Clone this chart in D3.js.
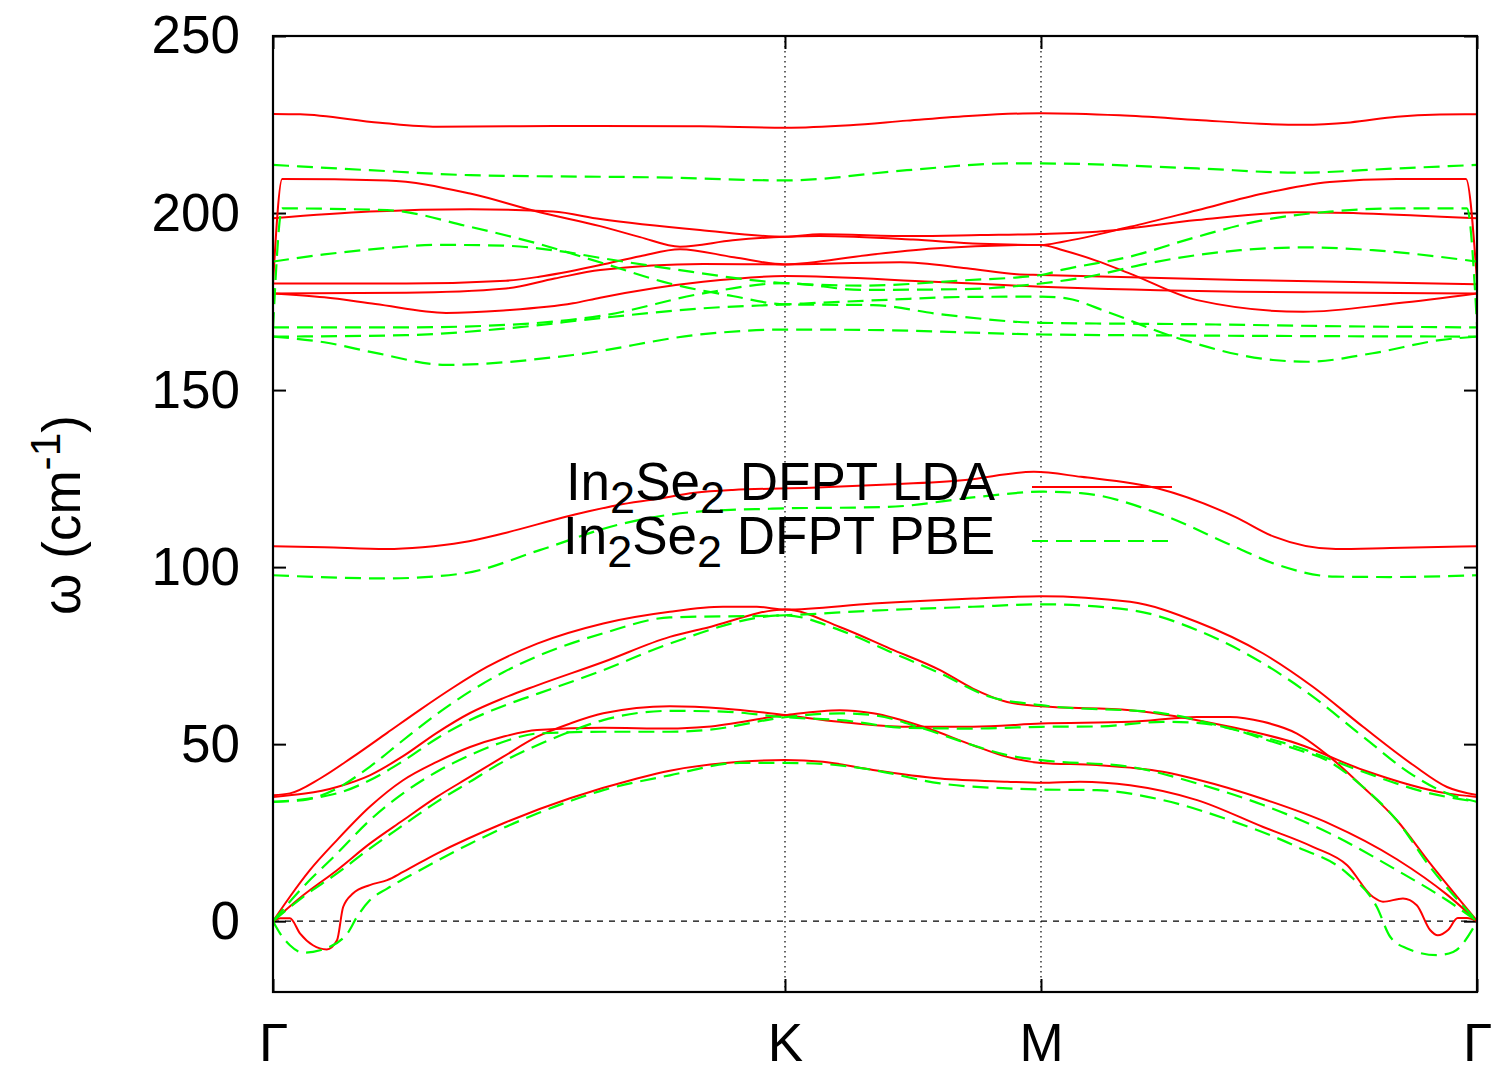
<!DOCTYPE html>
<html><head><meta charset="utf-8">
<script src="https://cdn.jsdelivr.net/npm/d3@7"></script>
<style>
body{margin:0;background:#fff}
text{font-family:"Liberation Sans",Arial,Helvetica,sans-serif}
</style>
</head><body>
<svg id="chart" width="1500" height="1071"></svg>
<script>
// ---- tick labels / categories ----
const kTicks = [0, 1, 1.5, 2.3516];
const kLabels = ["Γ", "K", "M", "Γ"];
const yTicks = [0, 50, 100, 150, 200, 250];
const seriesNames = ["LDA", "PBE"];

// ---- In2Se2 DFPT LDA bands: [path coordinate, frequency cm^-1] ----
const lda01 = [[0,228],[0.053,227.9],[0.209,225.5],[0.32,224.4],[0.482,224.5],[0.639,224.6],[0.834,224.5],[1,224.1],[1.127,224.8],[1.238,226.1],[1.367,227.5],[1.5,228.2],[1.654,227.6],[1.805,226.3],[1.928,225.2],[2.012,224.9],[2.104,225.6],[2.195,227.2],[2.279,227.8],[2.352,227.9]];
const lda02 = [[0,180],[0.018,209.6],[0.223,209.2],[0.385,205.5],[0.521,200.2],[0.639,196.3],[0.717,193.2],[0.795,190.5],[0.898,192.3],[1,193.3],[1.068,193.5],[1.25,192.5],[1.381,191.3],[1.5,191],[1.543,191.9],[1.674,196.1],[1.805,200.8],[1.934,205.5],[2.064,208.8],[2.195,209.6],[2.33,209.6],[2.352,180]];
const lda03 = [[0,198.5],[0.189,200.4],[0.385,201.1],[0.547,200.4],[0.639,198.3],[0.834,195.2],[1,193.3],[1.068,194],[1.25,193.5],[1.381,193.8],[1.5,194.1],[1.609,194.7],[1.805,198],[2,200.2],[2.129,199.9],[2.352,198.5]];
const lda04 = [[0,180.1],[0.26,180.1],[0.455,180.9],[0.52,182],[0.639,185.3],[0.717,187.8],[0.795,189.8],[0.9,187.5],[1,185.5],[1.16,188.1],[1.289,190],[1.5,191],[1.543,189.5],[1.609,186.5],[1.674,182.9],[1.805,175.4],[2.012,172.1],[2.195,174.5],[2.352,177.3]];
const lda05 = [[0,177.3],[0.26,177.5],[0.455,178.7],[0.55,181.5],[0.639,183.9],[0.84,185.6],[1,185.5],[1.225,186.1],[1.355,184.4],[1.453,182.7],[1.5,182.5],[1.889,181.1],[2.352,179.9]];
const lda06 = [[0,177.3],[0.1,176.2],[0.2,174.3],[0.338,171.8],[0.45,172.5],[0.586,174.5],[0.639,176.1],[0.84,180.6],[1,182.2],[1.289,180.6],[1.5,179.2],[1.889,177.8],[2.352,177.3]];
const lda07 = [[0,105.9],[0.1,105.6],[0.221,105.1],[0.292,105.6],[0.371,107],[0.449,109.5],[0.58,114.5],[0.672,117.5],[0.748,119.2],[0.824,121],[0.898,121.8],[1.051,122.4],[1.201,123.3],[1.352,124.6],[1.486,126.9],[1.578,125.5],[1.729,122.2],[1.879,114.2],[1.955,108.6],[2.076,105.1],[2.182,105.4],[2.352,105.9]];
const lda08 = [[0,35.6],[0.033,36.1],[0.092,40.3],[0.156,46.4],[0.223,53.2],[0.287,59.7],[0.352,66],[0.418,71.8],[0.516,78.4],[0.645,84.1],[0.775,87.4],[0.879,88.8],[0.945,88.8],[1,88],[1.172,89.7],[1.367,91.1],[1.5,91.8],[1.674,90.2],[1.805,84.5],[1.934,75.6],[2.031,66.2],[2.129,54.9],[2.227,44.1],[2.293,37.9],[2.352,35.6]];
const lda09 = [[0,35.1],[0.125,37.9],[0.189,41.2],[0.254,46.6],[0.32,53.2],[0.385,58.8],[0.45,63],[0.516,66.6],[0.645,73.2],[0.775,80.3],[0.848,82.9],[1,88],[1.107,83.1],[1.205,77],[1.303,70.9],[1.367,65.7],[1.434,61.9],[1.5,60.7],[1.674,59.6],[1.869,54.9],[2,50.2],[2.129,42.7],[2.293,36.1],[2.352,35.1]];
const lda10 = [[0,0],[0.059,7.3],[0.125,14.4],[0.189,21.9],[0.254,28.5],[0.32,35.1],[0.385,40.8],[0.449,46.4],[0.516,52.1],[0.58,55.8],[0.645,58.7],[0.775,60.7],[0.879,60.1],[1,58.2],[1.107,56.3],[1.238,54.9],[1.367,54.9],[1.5,55.8],[1.674,56.3],[1.805,57.7],[1.869,57.7],[1.934,56.3],[2,53],[2.064,46.4],[2.129,37.9],[2.195,28.5],[2.26,16.3],[2.352,0]];
const lda11 = [[0,0],[0.033,6.9],[0.072,14.4],[0.125,22.9],[0.189,32.3],[0.254,39.8],[0.32,45],[0.385,49.2],[0.449,52.1],[0.516,54],[0.645,54.6],[0.775,54.4],[0.848,54.9],[1,58.2],[1.107,59.6],[1.172,58.7],[1.27,54.9],[1.367,49.7],[1.434,46.4],[1.5,44.7],[1.609,44.1],[1.738,42.2],[1.805,40],[1.934,34.5],[2.064,27.5],[2.195,17.5],[2.293,7.5],[2.352,0]];
const lda12 = [[0,0],[0.014,0.8],[0.033,0.8],[0.053,-3.5],[0.078,-6.8],[0.105,-8],[0.125,-5.4],[0.137,4],[0.156,7.8],[0.189,10.2],[0.223,11.6],[0.254,13.9],[0.32,19.1],[0.449,27.6],[0.58,34.7],[0.711,40.3],[0.775,42.5],[0.912,45],[1,45.5],[1.074,45],[1.172,42.7],[1.303,40.3],[1.434,39.4],[1.5,39.1],[1.576,39.4],[1.674,38.4],[1.805,34.2],[1.934,26.6],[2.031,21],[2.098,15.8],[2.148,6.9],[2.168,5.5],[2.207,6.4],[2.234,4.5],[2.26,-2.5],[2.275,-4],[2.295,-2.5],[2.314,0.9],[2.332,0.9],[2.352,0]];

// ---- In2Se2 DFPT PBE bands ----
const pbe01 = [[0,213.6],[0.189,212.1],[0.385,210.7],[0.775,210],[1,209.2],[1.238,212.1],[1.434,214],[1.5,214],[1.805,212.6],[2,211.4],[2.195,212.6],[2.352,213.6]];
const pbe02 = [[0,167.5],[0.018,201.3],[0.223,200.8],[0.385,196.1],[0.516,191.4],[0.645,185.8],[0.775,180.1],[0.9,176.5],[1,174.2],[1.172,174],[1.3,171.5],[1.5,169],[1.8,168.6],[2.1,168],[2.352,167.7]];
const pbe03 = [[0,186.3],[0.1,188.3],[0.228,190.2],[0.32,191],[0.449,190.8],[0.547,189.5],[0.645,187.2],[0.775,184.3],[1,180.2],[1.15,179.5],[1.35,181],[1.5,182.5],[1.543,184],[1.674,187.7],[1.805,193.3],[1.934,198],[2.064,200.4],[2.195,201.3],[2.332,201.3],[2.352,167.5]];
const pbe04 = [[0,167.7],[0.26,167.7],[0.455,168.4],[0.65,171.2],[0.84,177.3],[1,180.2],[1.15,178.3],[1.35,178.5],[1.5,180.1],[1.609,182.5],[1.693,185.3],[1.889,189.5],[2.02,190.3],[2.148,189.5],[2.352,186.3]];
const pbe05 = [[0,165.1],[0.26,165.5],[0.455,167.4],[0.65,170.5],[0.84,173.1],[1,174.2],[1.2,175.5],[1.35,176.3],[1.5,176.4],[1.55,175.9],[1.629,172.1],[1.758,165.1],[1.953,158.5],[2.02,158],[2.148,160.4],[2.279,164.1],[2.352,165.1]];
const pbe06 = [[0,165.1],[0.1,163.5],[0.2,160.5],[0.338,157.1],[0.586,159.9],[0.84,165.8],[1,167.1],[1.2,166.9],[1.35,166.3],[1.5,165.7],[1.8,165.4],[2.352,165.1]];
const pbe07 = [[0,97.7],[0.221,96.8],[0.371,98.2],[0.521,104.8],[0.672,111.9],[0.824,115.6],[0.975,116.5],[1.201,117],[1.381,119.9],[1.5,121.3],[1.578,120.9],[1.729,115.2],[1.879,105.7],[1.955,101],[2.076,97.3],[2.182,97.2],[2.352,97.7]];
const pbe08 = [[0,33.7],[0.059,34.2],[0.125,37.5],[0.189,43.6],[0.254,51.1],[0.32,58.5],[0.385,64.9],[0.45,70.3],[0.516,74.8],[0.645,81.3],[0.775,85.8],[1,86.4],[1.172,87.7],[1.367,88.8],[1.5,89.5],[1.674,87.9],[1.805,82.2],[1.934,72.8],[2.031,63.4],[2.129,52.1],[2.227,41.2],[2.293,36.1],[2.352,33.7]];
const pbe09 = [[0,33.7],[0.125,36.1],[0.189,39.8],[0.254,45.2],[0.32,51.6],[0.385,56.8],[0.45,60.8],[0.516,64.2],[0.645,70.9],[0.775,78.4],[1,86.4],[1.107,82.2],[1.205,76.1],[1.303,70],[1.4,63.4],[1.5,61],[1.738,58.7],[1.869,54.4],[2,49.2],[2.129,42.2],[2.26,36.1],[2.352,33.7]];
const pbe10 = [[0,0],[0.059,6.9],[0.125,13.5],[0.189,20.5],[0.254,27.1],[0.32,33.7],[0.385,39.4],[0.449,45],[0.516,49.7],[0.58,53.5],[0.645,56.8],[0.775,59.4],[0.879,59.2],[1,57.6],[1.107,56.8],[1.238,54.6],[1.367,54.4],[1.5,54.9],[1.609,55],[1.738,56.3],[1.805,56],[1.869,54.5],[1.934,51.5],[2,48.5],[2.064,45],[2.129,37.9],[2.195,28.5],[2.26,15.3],[2.352,0]];
const pbe11 = [[0,0],[0.059,9.7],[0.125,19.1],[0.189,28.5],[0.254,36.1],[0.32,42.2],[0.385,46.9],[0.449,50.6],[0.516,53],[0.645,53.5],[0.775,53.5],[0.848,54],[1,57.6],[1.107,58.7],[1.172,58.2],[1.27,54.4],[1.367,49.7],[1.434,46.9],[1.5,45.5],[1.674,43.6],[1.805,38.9],[1.934,32.8],[2.064,24.8],[2.195,14.4],[2.293,5.9],[2.352,0]];
const pbe12 = [[0,0],[0.014,-3.5],[0.033,-6.8],[0.059,-8.9],[0.092,-8.2],[0.145,-3.5],[0.164,1.2],[0.189,5.9],[0.223,9.2],[0.287,14.4],[0.385,21.9],[0.516,30.4],[0.645,37],[0.775,41.2],[0.912,44.7],[1,44.7],[1.074,44.4],[1.172,42.7],[1.303,38.9],[1.434,37.5],[1.5,37.2],[1.609,37],[1.738,34.2],[1.869,28.5],[2,21],[2.098,13.5],[2.156,4],[2.182,-4.4],[2.215,-7.7],[2.273,-9.6],[2.305,-8.7],[2.352,0]];

const ldaBands = [lda01,lda02,lda03,lda04,lda05,lda06,lda07,lda08,lda09,lda10,lda11,lda12];
const pbeBands = [pbe01,pbe02,pbe03,pbe04,pbe05,pbe06,pbe07,pbe08,pbe09,pbe10,pbe11,pbe12];

// ---- layout ----
const svg = d3.select("#chart");
const L = 273, R = 1477, T = 36, B = 992;
const FONT = 53;
const x = d3.scaleLinear().domain([0, 2.3516]).range([L, R]);
const y = d3.scaleLinear().domain([-20, 250]).range([B, T]);

svg.append("defs").append("clipPath").attr("id","clip")
  .append("rect").attr("x",L).attr("y",T).attr("width",R-L).attr("height",B-T);

// grid: vertical dotted at K and M, dashed zero line
svg.append("g").selectAll("line").data(kTicks.slice(1,3)).join("line")
  .attr("x1",d=>x(d)).attr("x2",d=>x(d)).attr("y1",T).attr("y2",B)
  .attr("stroke","#000").attr("stroke-width",1.2).attr("stroke-dasharray","1.5,3.5");
svg.append("line").attr("x1",L).attr("x2",R).attr("y1",y(0)).attr("y2",y(0))
  .attr("stroke","#000").attr("stroke-width",1.2).attr("stroke-dasharray","6,6");

// axes
const axL = svg.append("g").attr("transform",`translate(${L},0)`)
  .call(d3.axisLeft(y).tickValues(yTicks).tickSize(-13).tickPadding(33));
const axR = svg.append("g").attr("transform",`translate(${R},0)`)
  .call(d3.axisRight(y).tickValues(yTicks).tickSize(-13).tickFormat(""));
const axB = svg.append("g").attr("transform",`translate(0,${B})`)
  .call(d3.axisBottom(x).tickValues(kTicks).tickSize(-13).tickPadding(31).tickFormat((d,i)=>kLabels[i]));
const axT = svg.append("g").attr("transform",`translate(0,${T})`)
  .call(d3.axisTop(x).tickValues(kTicks).tickSize(-13).tickFormat(""));
[axL,axR,axB,axT].forEach(g=>{
  g.select(".domain").remove();
  g.selectAll(".tick line").attr("stroke","#000").attr("stroke-width",2);
  g.selectAll("text").attr("font-size",FONT).attr("fill","#000")
    .attr("font-family","'Liberation Sans',Arial,Helvetica,sans-serif");
});

// bands
const line = d3.line().x(d=>x(d[0])).y(d=>y(d[1])).curve(d3.curveMonotoneX);
const gBands = svg.append("g").attr("clip-path","url(#clip)");
gBands.selectAll("path.lda").data(ldaBands).join("path").attr("class","lda")
  .attr("d",line).attr("fill","none").attr("stroke","#ff0000").attr("stroke-width",2);
gBands.selectAll("path.pbe").data(pbeBands).join("path").attr("class","pbe")
  .attr("d",line).attr("fill","none").attr("stroke","#00ff00").attr("stroke-width",2.2)
  .attr("stroke-dasharray","16,8");

// frame
svg.append("rect").attr("x",L).attr("y",T).attr("width",R-L).attr("height",B-T)
  .attr("fill","none").attr("stroke","#000").attr("stroke-width",2.2);

// y title
const yt = svg.append("text").attr("transform","translate(80,515) rotate(-90)")
  .attr("text-anchor","middle").attr("font-size",FONT).attr("fill","#000");
yt.append("tspan").text("ω (cm");
yt.append("tspan").attr("font-size",FONT*0.8).attr("dy",-20).text("-1");
yt.append("tspan").attr("dy",20).text(")");

// legend
const legendRows = [
  {name: seriesNames[0], y: 487, color:"#ff0000", dash:null, w:2},
  {name: seriesNames[1], y: 541, color:"#00ff00", dash:"16,8", w:2.2}
];
legendRows.forEach(r=>{
  const t = svg.append("text").attr("x",995).attr("y",r.y+13)
    .attr("text-anchor","end").attr("font-size",FONT).attr("fill","#000");
  t.append("tspan").text("In");
  t.append("tspan").attr("font-size",FONT*0.85).attr("dy",13).text("2");
  t.append("tspan").attr("dy",-13).text("Se");
  t.append("tspan").attr("font-size",FONT*0.85).attr("dy",13).text("2");
  t.append("tspan").attr("dy",-13).text(" DFPT " + r.name);
  svg.append("line").attr("x1",1032).attr("x2",1172).attr("y1",r.y).attr("y2",r.y)
    .attr("stroke",r.color).attr("stroke-width",r.w).attr("stroke-dasharray",r.dash);
});
</script>
</body></html>
